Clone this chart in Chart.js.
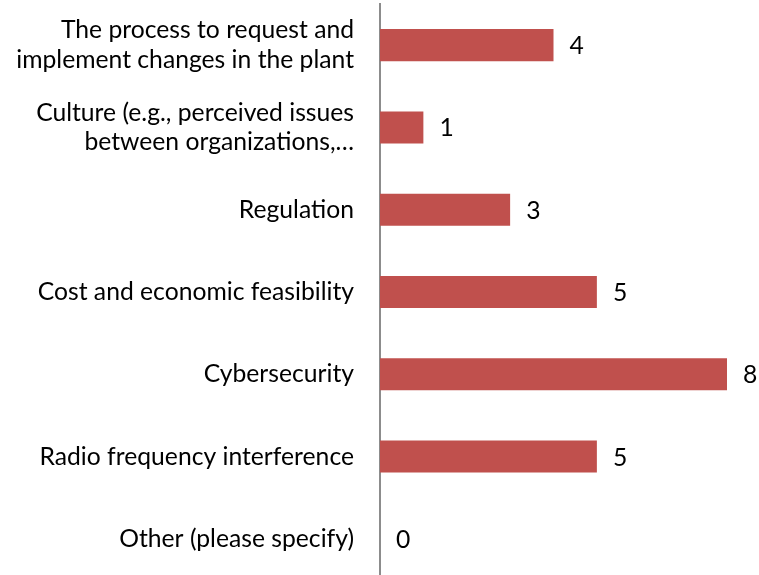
<!DOCTYPE html>
<html>
<head>
<meta charset="utf-8">
<script src="https://cdn.jsdelivr.net/npm/chart.js@4/dist/chart.umd.min.js"></script>
<style>
html,body{margin:0;padding:0;background:#fff;overflow:hidden;}
canvas{display:block;}
</style>
</head>
<body>
<canvas id="c" width="759" height="580" style="width:759px;height:580px"></canvas>
<script>
const categories = [
  ["The process to request and", "implement changes in the plant"],
  ["Culture (e.g., perceived issues", "between organizations,…"],
  "Regulation",
  "Cost and economic feasibility",
  "Cybersecurity",
  "Radio frequency interference",
  "Other (please specify)"
];
const responses = [4, 1, 3, 5, 8, 5, 0];
const axisMin = 0;
const axisMax = 8;

const FONT = {family: "Lato, 'Open Sans', sans-serif", size: 24.7};

const valueLabels = {
  id: 'valueLabels',
  afterDatasetsDraw(chart) {
    const ctx = chart.ctx;
    const meta = chart.getDatasetMeta(0);
    ctx.save();
    ctx.font = FONT.size + 'px ' + FONT.family;
    ctx.fillStyle = '#000';
    ctx.textAlign = 'left';
    ctx.textBaseline = 'middle';
    meta.data.forEach((bar, i) => {
      ctx.fillText(String(chart.data.datasets[0].data[i]), bar.x + 16, bar.y + 1);
    });
    ctx.restore();
  }
};

new Chart(document.getElementById('c'), {
  type: 'bar',
  data: {
    labels: categories,
    datasets: [{
      data: responses,
      backgroundColor: '#C0504D',
      borderWidth: 0,
      barPercentage: 1,
      categoryPercentage: 0.39
    }]
  },
  options: {
    responsive: false,
    indexAxis: 'y',
    animation: false,
    layout: {padding: {top: 4, right: 32, bottom: 0, left: 0}},
    plugins: {legend: {display: false}, tooltip: {enabled: false}},
    scales: {
      x: {display: false, min: axisMin, max: axisMax},
      y: {
        afterFit(scale) { scale.width = 380; scale.paddingTop = 0; scale.paddingBottom = 0; },
        grid: {display: false, drawTicks: false},
        border: {display: true, color: '#8c8c8c', width: 2},
        ticks: {
          color: '#000',
          padding: 26,
          font: {family: FONT.family, size: FONT.size, lineHeight: 1.2}
        }
      }
    }
  },
  plugins: [valueLabels]
});
</script>
</body>
</html>
